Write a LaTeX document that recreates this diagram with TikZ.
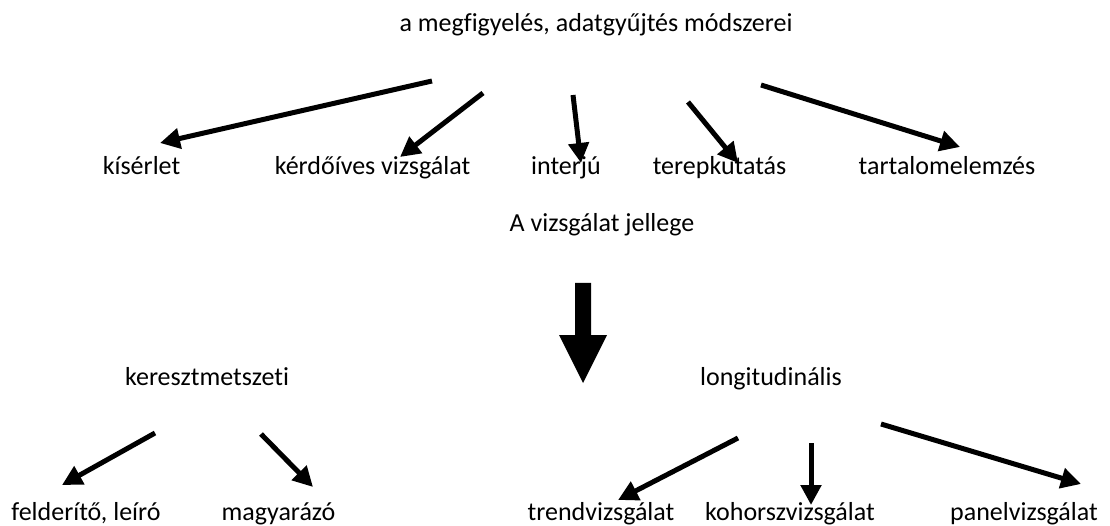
\documentclass[tikz,border=0pt]{standalone}
\usepackage{fontspec}
\setmainfont{Carlito}[Ligatures=NoCommon]
\usetikzlibrary{arrows.meta}
\begin{document}
\begin{tikzpicture}[x=1pt,y=-1pt,
  lbl/.style={anchor=base,inner sep=0pt,font=\fontsize{26pt}{30pt}\selectfont},
  arr/.style={line width=5pt,-{Triangle[length=20pt,width=20pt]}}]
\useasboundingbox (0,0) rectangle (1110,526);
% texts
\node[lbl] (top) at (596,32) {a megfigyelés, adatgyűjtés módszerei};
\node[lbl] (kis) at (141.5,175) {kísérlet};
\node[lbl] (ker) at (372.5,175) {kérdőíves vizsgálat};
\node[lbl] (int) at (566,175) {interjú};
\node[lbl] (ter) at (719.5,175) {terepkutatás};
\node[lbl] (tar) at (947,175) {tartalomelemzés};
\node[lbl] (jel) at (602,232) {A vizsgálat jellege};
\node[lbl] (kere) at (207,385) {keresztmetszeti};
\node[lbl] (lon) at (771,385) {longitudinális};
\node[lbl] (fel) at (86,520) {felderítő, leíró};
\node[lbl] (mag) at (278.5,520) {magyarázó};
\node[lbl] (tre) at (601,520) {trendvizsgálat};
\node[lbl] (koh) at (790,520) {kohorszvizsgálat};
\node[lbl] (pan) at (1024,520) {panelvizsgálat};
% arrow end points
\coordinate (a1s) at (432,81);  \coordinate (a1e) at (160,143);
\coordinate (a2s) at (483,93);  \coordinate (a2e) at (400,157);
\coordinate (a3s) at (573,95);  \coordinate (a3e) at (581,163);
\coordinate (a4s) at (688,102); \coordinate (a4e) at (738,163);
\coordinate (a5s) at (761,85);  \coordinate (a5e) at (960,147);
\coordinate (b1s) at (155,433); \coordinate (b1e) at (62,485);
\coordinate (b2s) at (261,434); \coordinate (b2e) at (313,487);
\coordinate (c1s) at (738,438); \coordinate (c1e) at (618,500);
\coordinate (c2s) at (811,443); \coordinate (c2e) at (811,505);
\coordinate (c3s) at (881,424); \coordinate (c3e) at (1081,484);
\draw[arr] (a1s) -- (a1e);
\draw[arr] (a2s) -- (a2e);
\draw[arr] (a3s) -- (a3e);
\draw[arr] (a4s) -- (a4e);
\draw[arr] (a5s) -- (a5e);
\draw[arr] (b1s) -- (b1e);
\draw[arr] (b2s) -- (b2e);
\draw[arr] (c1s) -- (c1e);
\draw[arr] (c2s) -- (c2e);
\draw[arr] (c3s) -- (c3e);
% big block arrow
\fill (575,283) -- (591,283) -- (591,335) -- (607,335) -- (583,383) -- (559,335) -- (575,335) -- cycle;
\end{tikzpicture}
\end{document}
